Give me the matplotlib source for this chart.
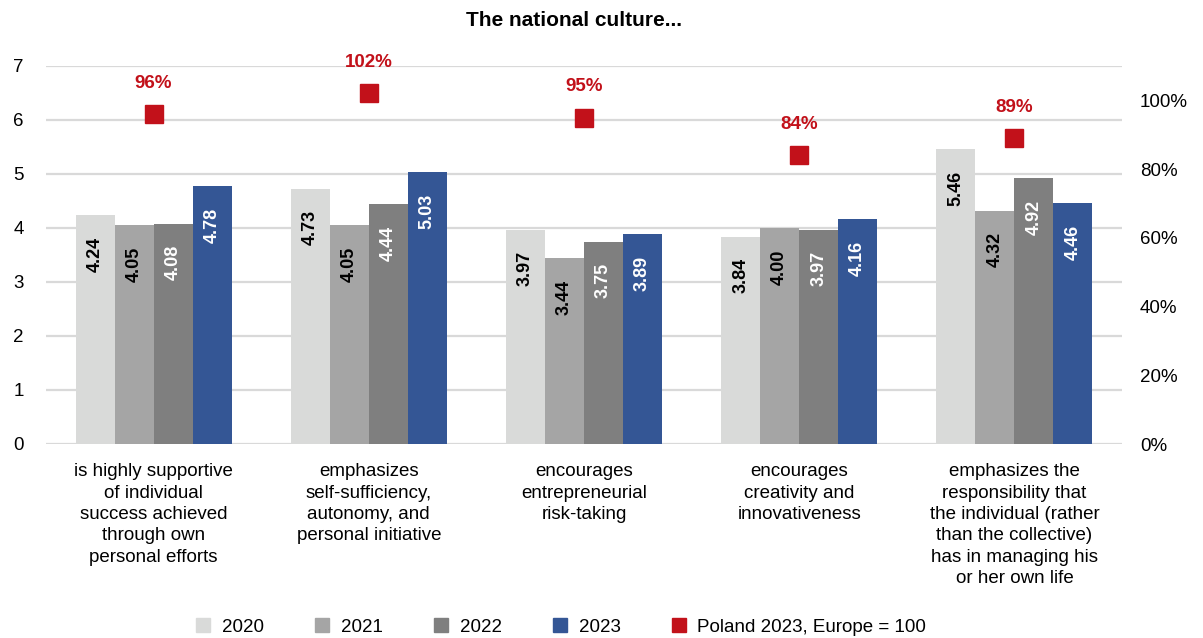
import matplotlib
matplotlib.use("Agg")
import matplotlib.pyplot as plt
from matplotlib.lines import Line2D
import numpy as np

plt.rcParams['font.family'] = ['Liberation Sans', 'DejaVu Sans']

categories = [
    "is highly supportive\nof individual\nsuccess achieved\nthrough own\npersonal efforts",
    "emphasizes\nself-sufficiency,\nautonomy, and\npersonal initiative",
    "encourages\nentrepreneurial\nrisk-taking",
    "encourages\ncreativity and\ninnovativeness",
    "emphasizes the\nresponsibility that\nthe individual (rather\nthan the collective)\nhas in managing his\nor her own life",
]
years = ["2020", "2021", "2022", "2023"]
values_2020 = [4.24, 4.73, 3.97, 3.84, 5.46]
values_2021 = [4.05, 4.05, 3.44, 4.00, 4.32]
values_2022 = [4.08, 4.44, 3.75, 3.97, 4.92]
values_2023 = [4.78, 5.03, 3.89, 4.16, 4.46]
poland_vs_europe = [96, 102, 95, 84, 89]
marker_label = "Poland 2023, Europe = 100"
title = "The national culture..."

series = [values_2020, values_2021, values_2022, values_2023]
bar_colors = ["#d9dad9", "#a5a5a5", "#7f7f7f", "#345695"]
label_colors = ["#000000", "#000000", "#ffffff", "#ffffff"]
red = "#c2111a"
grid_color = "#d9d9d9"

fig = plt.figure(figsize=(12.03, 6.38), dpi=100)
ax = fig.add_axes([46 / 1203, 194 / 638, 1076 / 1203, 378 / 638])
ax2 = ax.twinx()

x = np.arange(len(categories))
bw = 0.181
offsets = (np.arange(4) - 1.5) * bw

for vals, off, col, lcol in zip(series, offsets, bar_colors, label_colors):
    bars = ax.bar(x + off, vals, width=bw, color=col, zorder=2)
    for rect, v in zip(bars, vals):
        ax.annotate(f"{v:.2f}", (rect.get_x() + rect.get_width() / 2, v),
                    xytext=(0, -15.5), textcoords="offset points",
                    rotation=90, ha="center", va="top",
                    fontsize=13, fontweight="bold", color=lcol, zorder=3)

ax.set_ylim(0, 7)
ax.set_xlim(-0.5, len(categories) - 0.5)
ax.set_yticks(range(0, 8))
ax.yaxis.grid(True, color=grid_color, linewidth=1.6, zorder=0)
ax.set_axisbelow(True)
ax.set_xticks(x)
ax.set_xticklabels(categories, fontsize=13.5, linespacing=1.33)
ax.tick_params(axis="x", length=0, pad=14)
ax.tick_params(axis="y", length=0, pad=16, labelsize=13.5)
for s in ax.spines.values():
    s.set_visible(False)

ax2.plot(x, poland_vs_europe, linestyle="none", marker="s",
         markersize=13.5, color=red, zorder=4)
for xi, p in zip(x, poland_vs_europe):
    ax2.annotate(f"{p}%", (xi, p), xytext=(0, 16), textcoords="offset points",
                 ha="center", va="bottom", fontsize=13.5, fontweight="bold",
                 color=red)
ax2.set_ylim(0, 110)
ax2.set_yticks(range(0, 101, 20))
ax2.set_yticklabels([f"{t}%" for t in range(0, 101, 20)])
ax2.tick_params(axis="y", length=0, pad=13, labelsize=13.5)
for s in ax2.spines.values():
    s.set_visible(False)

fig.text(574 / 1203, 1 - 20 / 638, title, ha="center", va="center",
         fontsize=15, fontweight="bold")

handles = [Line2D([], [], linestyle="none", marker="s", markersize=9.5,
                  color=c) for c in bar_colors]
handles.append(Line2D([], [], linestyle="none", marker="s", markersize=9.5,
                      color=red))
fig.legend(handles, years + [marker_label], ncol=5, loc="center",
           bbox_to_anchor=(561 / 1203, 1 - 627 / 638), frameon=False,
           fontsize=13.5, handlelength=0.8, handletextpad=0.6,
           columnspacing=2.7)

fig.savefig("out.png", dpi=100)
